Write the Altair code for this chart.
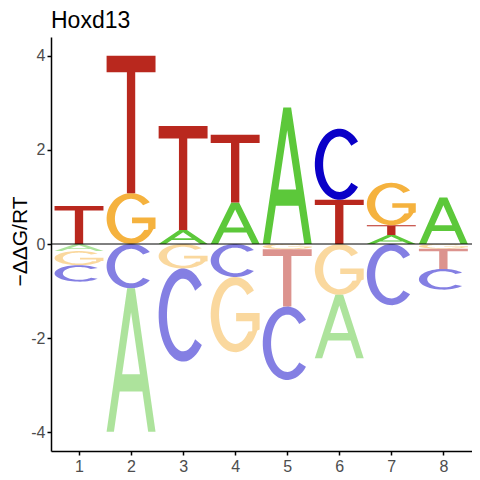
import altair as alt
import numpy as np
import pandas as pd

# ---- data (-ddG/RT per letter and position) ----
positions = [1, 2, 3, 4, 5, 6, 7, 8]
A_vals = [-0.15, -3.05, 0.30, 0.88, 2.90, -1.35, 0.19, 0.99]
C_vals = [-0.35, -0.94, -1.98, -0.70, -1.56, 1.51, -1.30, -0.44]
G_vals = [-0.30, 1.08, -0.52, -1.60, -0.11, -1.08, 0.90, -0.10]
T_vals = [0.81, 2.92, 2.21, 1.44, -1.22, 0.94, 0.21, -0.43]
letters = ["A", "C", "G", "T"]
letter_colors = ["#5CC83A", "#0A00C8", "#F5B23E", "#B9281E"]
title_text = "Hoxd13"
y_title = "\u2212\u0394\u0394G/RT"
y_ticks = [-4, -2, 0, 2, 4]


# ---- glyph outlines in a unit box (shape definitions only) ----
def arc(cx, cy, rx, ry, a0, a1, n=48):
    t = np.radians(np.linspace(a0, a1, n))
    return list(zip(cx + rx * np.cos(t), cy + ry * np.sin(t)))


def glyph_T():
    b, s = 0.12, 0.17
    return [(0, 1), (1, 1), (1, 1 - b), (0.5 + s / 2, 1 - b), (0.5 + s / 2, 0),
            (0.5 - s / 2, 0), (0.5 - s / 2, 1 - b), (0, 1 - b)]


def glyph_A():
    t, k, cb0, cb1 = 0.15, 0.42, 0.28, 0.40
    xl = lambda y: t + k * y
    xr = lambda y: 1 - t - k * y
    ay = (0.5 - t) / k
    return [(0, 0), (k, 1), (0.5, 1), (0.5, ay), (xl(cb1), cb1), (xr(cb1), cb1),
            (0.5, ay), (0.5, 1), (1 - k, 1), (1, 0), (1 - t, 0), (xr(cb0), cb0),
            (xl(cb0), cb0), (t, 0)]


def glyph_C():
    return arc(0.5, 0.5, 0.5, 0.5, 40, 320) + arc(0.5, 0.5, 0.33, 0.39, 318, 42)


def glyph_G():
    pts = arc(0.5, 0.5, 0.5, 0.5, 40, 335)
    pts += [(1.0, 0.30), (1.0, 0.52), (0.52, 0.52), (0.52, 0.41), (0.85, 0.41), (0.85, 0.28)]
    pts += arc(0.5, 0.5, 0.33, 0.39, 325, 42)
    return pts


glyphs = {"A": glyph_A(), "C": glyph_C(), "G": glyph_G(), "T": glyph_T()}
W = 0.94

rows = []
gid = 0
for p, pos in enumerate(positions):
    vals = {"A": A_vals[p], "C": C_vals[p], "G": G_vals[p], "T": T_vals[p]}
    stacks = [
        ("pos", sorted((v, k) for k, v in vals.items() if v > 0), 1),
        ("neg", sorted((-v, k) for k, v in vals.items() if v < 0), -1),
    ]
    for sign, items, d in stacks:
        base = 0.0
        for v, k in items:
            y0, y1 = (base, base + v) if d > 0 else (base - v, base)
            for i, (gx, gy) in enumerate(glyphs[k]):
                rows.append({"gid": gid, "letter": k, "sign": sign, "i": i,
                             "x": pos - W / 2 + gx * W, "y": y0 + gy * (y1 - y0)})
            gid += 1
            base += d * v

df = pd.DataFrame(rows)

font = "Liberation Sans"

logo = alt.Chart(df).mark_line(filled=True, strokeWidth=0).encode(
    x=alt.X("x:Q", scale=alt.Scale(domain=[0.462, 8.55], nice=False, zero=False),
            axis=alt.Axis(values=positions, title=None, format="d", labelPadding=3)),
    y=alt.Y("y:Q", scale=alt.Scale(domain=[-4.4, 4.4], nice=False, zero=False),
            axis=alt.Axis(values=y_ticks, title=y_title, format="d",
                          labelExpr="replace(datum.label, '\u2212', '-')",
                          labelPadding=2, titleX=-31, titleY=204,
                          titleBaseline="middle", titleAlign="center", titleAngle=270)),
    color=alt.Color("letter:N", scale=alt.Scale(domain=letters, range=letter_colors), legend=None),
    opacity=alt.Opacity("sign:N", scale=alt.Scale(domain=["pos", "neg"], range=[1.0, 0.5]), legend=None),
    detail="gid:N",
    order="i:Q",
)

zero = alt.Chart(pd.DataFrame({"y": [0]})).mark_rule(color="black", strokeWidth=1).encode(y="y:Q")

chart = alt.layer(logo, zero).properties(
    width=421, height=414,
    title=alt.TitleParams(title_text, anchor="start", frame="group", fontSize=23,
                          font=font, fontWeight="normal", color="black", offset=4),
    autosize="none",
    padding={"left": 43, "top": 29, "right": 0, "bottom": 28},
).configure_view(stroke=None).configure_axis(
    grid=False, domainColor="black", domainWidth=1.5, tickColor="black", tickWidth=1.5,
    tickSize=4, labelColor="#4D4D4D", labelFont=font, labelFontSize=16,
    titleFont=font, titleFontSize=21, titleFontWeight="normal", titleColor="black",
)

chart.save("out.html", embed_options={"renderer": "svg", "actions": False})
